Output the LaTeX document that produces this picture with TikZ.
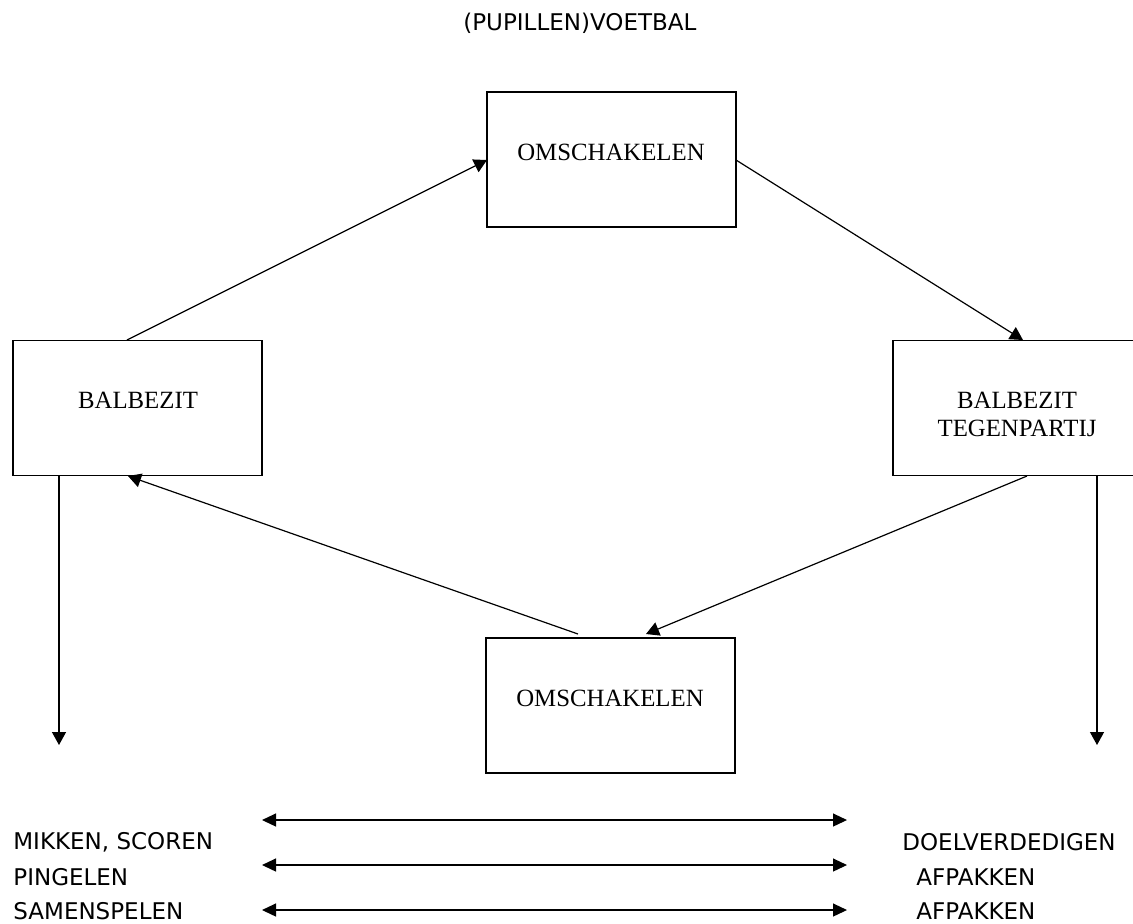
\documentclass[tikz,border=0pt]{standalone}
\usepackage{fontspec}
\setmainfont{Liberation Serif}
\newfontfamily\verd{DejaVu Sans}
\usetikzlibrary{arrows.meta}
\tikzset{
  box/.style={draw, line width=0.7pt, minimum width=124.5pt, minimum height=67.5pt, inner sep=0pt},
  boxtext/.style={font=\fontsize{12.4pt}{14pt}\selectfont, inner sep=0pt, align=center},
  sanstext/.style={font=\verd\fontsize{11.5pt}{13pt}\selectfont, inner sep=0pt, anchor=west},
  conn/.style={line width=0.6pt, -{Triangle[width=7pt,length=6.5pt]}},
  dbl/.style={line width=0.6pt, {Triangle[width=6.5pt,length=7pt]}-{Triangle[width=6.5pt,length=7pt]}}
}
\begin{document}
\begin{tikzpicture}[x=0.5pt,y=-0.5pt]
\useasboundingbox (0,0) rectangle (1133,923);
\clip (0,0) rectangle (1133,923);
% title
\node[sanstext] (title) at (463,23) {(PUPILLEN)VOETBAL};
% boxes
\node[box] (top) at (611.5,159.5) {};
\node[boxtext] (toptxt) at (611,152) {OMSCHAKELEN};
\node[box] (bal) at (137.5,408) {};
\node[boxtext] (baltxt) at (138,400) {BALBEZIT};
\node[box] (teg) at (1017.5,408) {};
\node[boxtext] (tegtxt) at (1017,414) {BALBEZIT\\TEGENPARTIJ};
\node[box] (bot) at (610.5,705.5) {};
\node[boxtext] (bottxt) at (610,698) {OMSCHAKELEN};
% connector ends
\coordinate (balN) at (127,340);
\coordinate (topW) at (487,160);
\coordinate (topE) at (736,160);
\coordinate (tegN) at (1023,340);
\coordinate (tegS) at (1027,476);
\coordinate (botR) at (646,634);
\coordinate (botL) at (578,634);
\coordinate (balS) at (128,476);
\coordinate (balSW) at (59,476);
\coordinate (leftEnd) at (59,745);
\coordinate (tegSE) at (1097,476);
\coordinate (rightEnd) at (1097,745);
\draw[conn] (balN) -- (topW);
\draw[conn] (topE) -- (tegN);
\draw[conn] (tegS) -- (botR);
\draw[conn] (botL) -- (balS);
\draw[conn] (balSW) -- (leftEnd);
\draw[conn] (tegSE) -- (rightEnd);
% bottom lists
\node[sanstext] (l1) at (13,842) {MIKKEN, SCOREN};
\node[sanstext] (l2) at (13,877) {PINGELEN};
\node[sanstext] (l3) at (13,911) {SAMENSPELEN};
\node[sanstext] (r1) at (902,842) {DOELVERDEDIGEN};
\node[sanstext] (r2) at (916,877) {AFPAKKEN};
\node[sanstext] (r3) at (916,911) {AFPAKKEN};
\coordinate (a1l) at (262,820); \coordinate (a1r) at (847,820);
\coordinate (a2l) at (262,865); \coordinate (a2r) at (847,865);
\coordinate (a3l) at (262,910); \coordinate (a3r) at (847,910);
\draw[dbl] (a1l) -- (a1r);
\draw[dbl] (a2l) -- (a2r);
\draw[dbl] (a3l) -- (a3r);
\end{tikzpicture}
\end{document}
